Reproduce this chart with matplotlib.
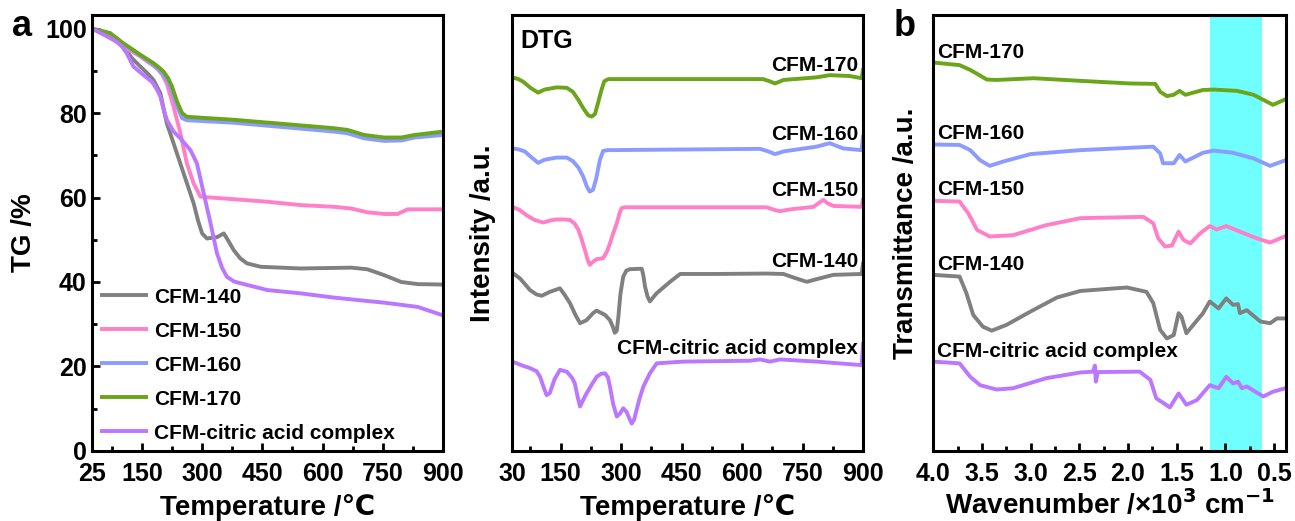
import numpy as np
import matplotlib
matplotlib.use("Agg")
import matplotlib.pyplot as plt

plt.rcParams["font.family"] = ["Liberation Sans", "DejaVu Sans"]
plt.rcParams["font.weight"] = "bold"

names = ["CFM-140", "CFM-150", "CFM-160", "CFM-170", "CFM-citric acid complex"]
colors = ["#808080", "#ff7fc8", "#8c9bff", "#6aa51a", "#bb77ff"]

# --- TG (panel a) ---
tg_140_x = [25, 60, 104, 125, 146, 165, 179, 196, 212, 229, 254, 279, 290, 300, 312, 337, 354, 365, 379, 395, 412, 446, 546, 671, 712, 754, 796, 837, 900]
tg_140_y = [100, 98.8, 95.7, 93.0, 91, 89.3, 87.8, 84.7, 77.6, 72.8, 65.7, 58.6, 54.5, 51.5, 50.3, 50.6, 51.5, 49.8, 47.5, 45.6, 44.4, 43.6, 43.2, 43.4, 43.0, 41.6, 40.0, 39.5, 39.4]
tg_150_x = [25, 60, 112, 146, 187, 200, 212, 229, 246, 262, 279, 296, 321, 379, 462, 546, 629, 671, 712, 754, 787, 812, 900]
tg_150_y = [100, 98.8, 95.3, 93.4, 90.6, 89.2, 87, 81.5, 75.2, 68.1, 63.3, 60.2, 60, 59.6, 59, 58.2, 57.8, 57.4, 56.5, 56.1, 56.1, 57.2, 57.2]
tg_160_x = [25, 71, 104, 146, 179, 195, 204, 215, 225, 238, 250, 262, 379, 629, 662, 704, 754, 796, 829, 900]
tg_160_y = [100, 98.9, 96.3, 93.6, 91.4, 90.0, 89.0, 87.5, 85.2, 81.5, 78.8, 78.3, 77.7, 75.6, 75.2, 74.0, 73.4, 73.5, 74.2, 74.8]
tg_170_x = [25, 71, 104, 146, 179, 195, 204, 215, 225, 238, 250, 262, 379, 629, 662, 704, 754, 796, 829, 900]
tg_170_y = [100, 98.9, 96.5, 93.8, 91.8, 90.6, 89.8, 88.3, 86.3, 82.6, 80, 79.1, 78.4, 76.4, 76, 74.8, 74.2, 74.2, 74.8, 75.6]
tg_cit_x = [25, 60, 87, 100, 112, 129, 154, 175, 186, 196, 205, 212, 229, 246, 271, 287, 304, 321, 337, 350, 362, 380, 396, 462, 546, 629, 712, 754, 837, 900]
tg_cit_y = [100, 98.3, 96.9, 95.8, 94.2, 91, 89, 87.4, 85.8, 83.9, 80.5, 78.4, 75.6, 74, 71.2, 68.1, 61, 53.9, 46.8, 43.3, 41.2, 40.1, 39.7, 38.1, 37.3, 36.3, 35.5, 35.1, 34.1, 32.1]

# --- DTG (middle panel, arbitrary offset units) ---
dtg_170_x = [30, 45, 57, 75, 94, 110, 140, 165, 180, 194, 206, 218, 227, 235, 243, 251, 258, 268, 652, 668, 681, 692, 702, 784, 817, 867, 896, 900]
dtg_170_y = [85.7, 85.3, 84.7, 83.3, 82.2, 82.9, 83.4, 83.3, 82.4, 80.5, 78.6, 77.0, 76.7, 77.3, 80.0, 82.8, 84.8, 85.3, 85.3, 84.8, 84.3, 84.7, 85.1, 85.7, 86.2, 86, 85.5, 87.8]
dtg_160_x = [30, 45, 61, 78, 94, 110, 140, 165, 180, 194, 206, 215, 222, 230, 238, 247, 255, 265, 644, 665, 681, 692, 702, 784, 817, 850, 896, 900]
dtg_160_y = [69.4, 69.2, 68.7, 67.3, 66.1, 66.8, 67.3, 67.3, 66.5, 65.0, 62.9, 60.6, 59.5, 59.9, 62.5, 66.7, 68.8, 69.0, 69.3, 68.7, 68.1, 68.4, 68.7, 69.8, 70.6, 69.4, 69, 72.5]
dtg_150_x = [30, 48, 65, 85, 107, 125, 140, 160, 173, 185, 194, 202, 210, 217, 222, 230, 239, 255, 265, 272, 280, 289, 296, 301, 310, 660, 680, 693, 718, 777, 790, 801, 812, 826, 896, 900]
dtg_150_y = [56, 55.3, 54.1, 53.0, 52.4, 52.9, 53.1, 53.1, 53.0, 52.1, 50.7, 48.5, 46.1, 43.8, 42.7, 43.4, 44, 44.2, 45.8, 47.6, 49.9, 52.2, 54.6, 55.7, 55.9, 55.9, 55.3, 55, 55.4, 56, 56.9, 57.6, 56.8, 56.2, 56, 58]
dtg_140_x = [30, 50, 74, 90, 103, 123, 148, 160, 173, 186, 198, 214, 230, 239, 260, 272, 280, 284, 289, 293, 298, 305, 313, 322, 351, 355, 359, 365, 371, 388, 421, 446, 536, 660, 702, 730, 760, 784, 826, 896, 900]
dtg_140_y = [40.9, 39.5, 36.9, 35.9, 35.6, 36.5, 37.3, 35.8, 33.9, 31.3, 29.3, 30, 31.6, 32.2, 31.2, 30, 28.3, 27.1, 27.6, 30.8, 36.0, 40, 41.4, 41.7, 41.8, 40.2, 37.7, 35.5, 34.3, 36.2, 38.8, 40.6, 40.6, 40.7, 40.6, 39.7, 38.8, 39.4, 40.4, 40.6, 43.4]
dtg_cit_x = [30, 55, 74, 90, 99, 107, 115, 123, 135, 148, 165, 178, 185, 192, 198, 205, 214, 228, 239, 250, 260, 267, 272, 280, 289, 297, 305, 313, 320, 326, 332, 338, 346, 355, 371, 388, 454, 619, 644, 669, 693, 784, 896, 900]
dtg_cit_y = [20.5, 19.6, 19, 18.3, 17, 14.8, 12.8, 13.3, 16.5, 18.6, 18.2, 16.8, 15.5, 12.4, 10.2, 11.6, 13.2, 15.4, 17, 17.7, 17.8, 16.9, 14.8, 10.8, 7.9, 8.6, 9.8, 9, 7.5, 6.3, 7.2, 9.4, 12.2, 14.8, 17.8, 20.1, 20.5, 20.7, 21, 20.5, 21, 20.5, 19.7, 25]
dtg_label_y = [43.4, 59.7, 72.5, 88.5, 23.5]

# --- FTIR (panel b), wavenumber in 10^3 cm-1 ---
ir_170_x = [4.0, 3.73, 3.62, 3.45, 3.35, 2.97, 2.49, 1.98, 1.72, 1.67, 1.6, 1.53, 1.47, 1.41, 1.23, 1.12, 0.88, 0.71, 0.51, 0.38]
ir_170_y = [89.1, 88.5, 87.4, 85.2, 85.1, 85.5, 84.9, 84.3, 84.2, 82.4, 81.4, 81.7, 82.6, 81.7, 82.8, 82.9, 82.6, 81.7, 79.4, 80.7]
ir_160_x = [4.0, 3.73, 3.62, 3.52, 3.42, 3.28, 3.0, 2.49, 1.74, 1.67, 1.64, 1.53, 1.47, 1.41, 1.23, 1.12, 0.92, 0.71, 0.54, 0.38]
ir_160_y = [70.3, 70.2, 69, 66.7, 65.4, 66.4, 68.1, 69, 69.8, 68.3, 66, 66, 67.9, 66.4, 68.4, 68.9, 68.4, 67.1, 65.4, 66.7]
ir_150_x = [4.0, 3.73, 3.64, 3.55, 3.42, 3.18, 2.84, 2.49, 1.84, 1.74, 1.69, 1.62, 1.55, 1.48, 1.43, 1.36, 1.26, 1.16, 1.09, 0.99, 0.85, 0.68, 0.54, 0.38]
ir_150_y = [57.4, 57.2, 54.5, 50.7, 49.2, 49.5, 51.8, 53.4, 53.7, 52.2, 48.8, 46.9, 47.1, 50.3, 48.4, 47.6, 49.9, 51.6, 50.8, 51.6, 50.3, 48.8, 47.8, 49.3]
ir_140_x = [4.0, 3.73, 3.66, 3.59, 3.49, 3.4, 3.25, 3.0, 2.73, 2.49, 2.01, 1.81, 1.74, 1.67, 1.6, 1.53, 1.48, 1.45, 1.4, 1.33, 1.23, 1.16, 1.07, 0.99, 0.92, 0.87, 0.85, 0.78, 0.64, 0.54, 0.47, 0.38]
ir_140_y = [40.4, 40, 36.2, 31.2, 28.5, 27.6, 28.9, 32, 35.2, 36.7, 37.5, 36.5, 33.9, 27.8, 25.8, 26.6, 31.6, 30.8, 27, 28.9, 31.6, 34.3, 32.7, 35, 33.5, 33.7, 31.6, 32.3, 29.7, 29.3, 30.4, 30.4]
ir_cit_x = [4.0, 3.73, 3.62, 3.52, 3.35, 3.18, 2.84, 2.49, 2.36, 2.34, 2.33, 2.31, 1.88, 1.77, 1.71, 1.57, 1.48, 1.4, 1.29, 1.16, 1.07, 0.99, 0.92, 0.87, 0.83, 0.78, 0.61, 0.51, 0.38]
ir_cit_y = [20.5, 20.1, 17, 15.1, 14.1, 14.4, 16.7, 18, 18.2, 19.6, 15.9, 18.1, 18.2, 16.3, 12.1, 10, 13.2, 10.6, 11.7, 15.1, 14.4, 17, 15.5, 15.9, 14.4, 14.8, 12.5, 13.6, 14.4]
ir_label_y = [42.7, 60, 72.9, 91.4, 22.8]
band = (1.16, 0.62)

tg = [(tg_140_x, tg_140_y), (tg_150_x, tg_150_y), (tg_160_x, tg_160_y), (tg_170_x, tg_170_y), (tg_cit_x, tg_cit_y)]
dtg = [(dtg_140_x, dtg_140_y), (dtg_150_x, dtg_150_y), (dtg_160_x, dtg_160_y), (dtg_170_x, dtg_170_y), (dtg_cit_x, dtg_cit_y)]
ir = [(ir_140_x, ir_140_y), (ir_150_x, ir_150_y), (ir_160_x, ir_160_y), (ir_170_x, ir_170_y), (ir_cit_x, ir_cit_y)]

fig = plt.figure(figsize=(12.95, 5.21), dpi=100)
ax1 = fig.add_axes([0.0708, 0.1344, 0.2713, 0.8368])
ax2 = fig.add_axes([0.3956, 0.1344, 0.2710, 0.8368])
ax3 = fig.add_axes([0.7207, 0.1344, 0.2721, 0.8368])

lw = 2.8
for ax in (ax1, ax2, ax3):
    for s in ax.spines.values():
        s.set_linewidth(2.2)
    ax.tick_params(direction="in", width=2, length=6, labelsize=18, top=False, right=False)
    ax.tick_params(axis="x", pad=8)
    ax.tick_params(which="minor", direction="in", width=2, length=3.5, top=False, right=False)

# panel a
for (x, y), c, n in zip(tg, colors, names):
    ax1.plot(x, y, color=c, lw=lw, label=n, solid_capstyle="butt")
ax1.set_xlim(25, 900)
ax1.set_ylim(0, 103.2)
ax1.set_xticks([25, 150, 300, 450, 600, 750, 900])
ax1.set_xticks(np.arange(75, 900, 75), minor=True)
ax1.set_yticks([0, 20, 40, 60, 80, 100])
ax1.set_yticks(np.arange(10, 101, 20), minor=True)
ax1.set_xlabel("Temperature /\u2103", fontsize=20, fontweight="bold", labelpad=6)
ax1.set_ylabel("TG /%", fontsize=20, fontweight="bold", labelpad=6)
ax1.legend(loc="lower left", bbox_to_anchor=(0, 0), frameon=False,
           prop={"weight": "bold", "size": 15}, handlelength=2.3, handletextpad=0.3,
           labelspacing=0.72, borderaxespad=0.2, borderpad=0.2)
fig.text(0.009, 0.93, "a", fontsize=26, fontweight="bold")

# DTG
for (x, y), c, n, ly in zip(dtg, colors, names, dtg_label_y):
    ax2.plot(x, y, color=c, lw=lw, solid_capstyle="butt")
    ax2.text(887, ly, n, ha="right", va="center", fontsize=15, fontweight="bold")
ax2.text(49, 94, "DTG", ha="left", va="center", fontsize=18, fontweight="bold")
ax2.set_xlim(30, 900)
ax2.set_ylim(0, 100)
ax2.set_xticks([30, 150, 300, 450, 600, 750, 900])
ax2.set_xticks(np.arange(75, 900, 75), minor=True)
ax2.set_yticks([])
ax2.set_xlabel("Temperature /\u2103", fontsize=20, fontweight="bold", labelpad=6)
ax2.set_ylabel("Intensity /a.u.", fontsize=20, fontweight="bold", labelpad=12)

# panel b
ax3.axvspan(band[0], band[1], color="#70ffff", lw=0, zorder=0)
for (x, y), c, n, ly in zip(ir, colors, names, ir_label_y):
    ax3.plot(x, y, color=c, lw=lw, solid_capstyle="butt")
    ax3.text(3.96, ly, n, ha="left", va="center", fontsize=15, fontweight="bold")
ax3.set_xlim(4.0, 0.38)
ax3.set_ylim(0, 100)
ax3.set_xticks([4.0, 3.5, 3.0, 2.5, 2.0, 1.5, 1.0, 0.5])
ax3.set_xticklabels(["4.0", "3.5", "3.0", "2.5", "2.0", "1.5", "1.0", "0.5"])
ax3.set_xticks(np.arange(3.75, 0.4, -0.5), minor=True)
ax3.set_yticks([])
ax3.set_xlabel("Wavenumber /\u00d710$^\\mathbf{3}$ cm$^\\mathbf{-1}$", fontsize=20, fontweight="bold", labelpad=2)
ax3.set_ylabel("Transmittance /a.u.", fontsize=20, fontweight="bold", labelpad=10)
fig.text(0.69, 0.93, "b", fontsize=26, fontweight="bold")

for ax in (ax1, ax2, ax3):
    for lab in ax.get_xticklabels() + ax.get_yticklabels():
        lab.set_fontweight("bold")

fig.savefig("out.png", dpi=100)
